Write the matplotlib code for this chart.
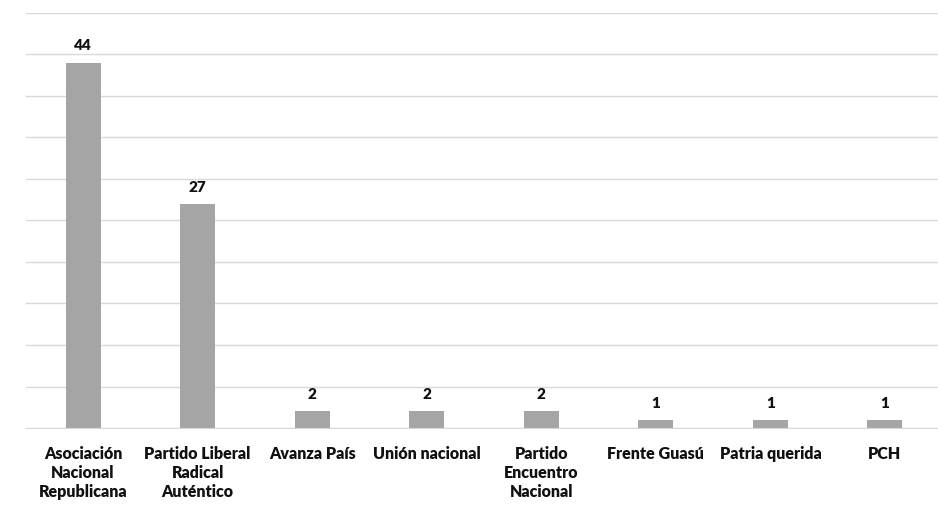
import matplotlib
matplotlib.use('Agg')
from matplotlib import pyplot as plt

# Chart data
parties = ['Asociación\nNacional\nRepublicana', 'Partido Liberal\nRadical\nAuténtico',
           'Avanza País', 'Unión nacional', 'Partido\nEncuentro\nNacional',
           'Frente Guasú', 'Patria querida', 'PCH']
seats = [44, 27, 2, 2, 2, 1, 1, 1]

plt.rcParams['font.family'] = ['Lato', 'DejaVu Sans']


def main():
    fig = plt.figure(figsize=(9.38, 5.06), dpi=100)
    ax = fig.add_axes([0.0275, 0.152, 0.977, 0.821])

    x = list(range(len(parties)))
    bars = ax.bar(x, seats, width=0.306, color='#a5a5a5', zorder=2)

    # Value labels above bars
    for rect, v in zip(bars, seats):
        ax.annotate(str(v), (rect.get_x() + rect.get_width() / 2, v),
                    xytext=(0, 8), textcoords='offset points',
                    ha='center', va='bottom', fontsize=11, fontweight='heavy',
                    color='#111111')

    ax.set_xlim(-0.5, len(parties) - 0.5)
    ax.set_ylim(0, 50)
    ax.set_yticks(range(0, 51, 5))
    ax.yaxis.grid(True, color='#d9d9d9', linewidth=1, zorder=0)
    ax.tick_params(axis='y', left=False, labelleft=False)
    ax.tick_params(axis='x', length=0, pad=12.5)

    ax.set_xticks(x)
    ax.set_xticklabels(parties, fontsize=11.5, fontweight='heavy', color='#111111',
                       linespacing=1.23)

    for side in ['top', 'right', 'left']:
        ax.spines[side].set_visible(False)
    ax.spines['bottom'].set_color('#d9d9d9')

    fig.savefig('out.png', dpi=100)


if __name__ == '__main__':
    main()
